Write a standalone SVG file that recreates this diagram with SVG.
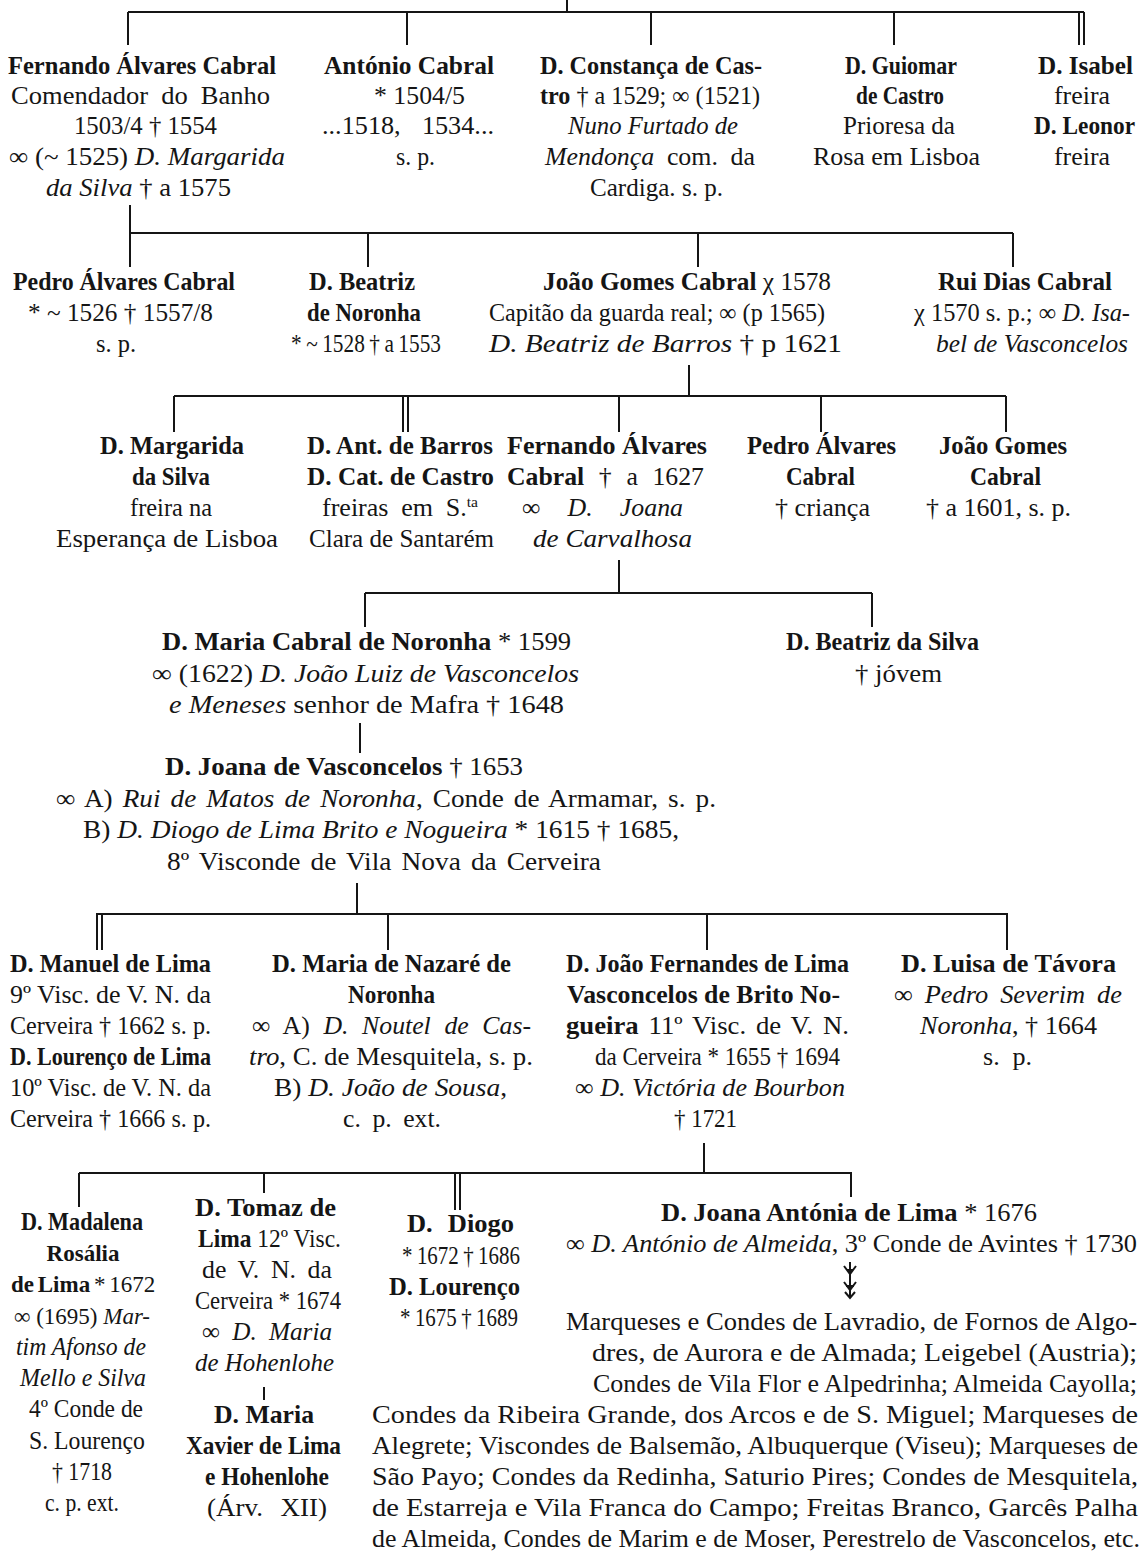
<svg xmlns="http://www.w3.org/2000/svg" width="1146" height="1555" viewBox="0 0 1146 1555">
<style>
text{font-family:"Liberation Serif","Times New Roman",serif;font-size:25px;fill:#151515}
.b{font-weight:bold}
.i{font-style:italic}
.s{font-size:23px}
.ln line,.ln path{stroke:#151515;stroke-width:2;fill:none}
</style>
<rect width="1146" height="1555" fill="#fff"/>
<g class="ln" id="connectors">
<line x1="567" y1="0" x2="567" y2="12"/>
<line x1="128" y1="12" x2="1084" y2="12"/>
<line x1="128" y1="12" x2="128" y2="45"/>
<line x1="407" y1="13" x2="407" y2="45"/>
<line x1="651" y1="13" x2="651" y2="45"/>
<line x1="894" y1="13" x2="894" y2="45"/>
<line x1="1079" y1="12" x2="1079" y2="45"/>
<line x1="1084" y1="12" x2="1084" y2="45"/>
<line x1="130" y1="205" x2="130" y2="267"/>
<line x1="130" y1="233" x2="1013" y2="233"/>
<line x1="368" y1="234" x2="368" y2="267"/>
<line x1="698" y1="234" x2="698" y2="267"/>
<line x1="1013" y1="233" x2="1013" y2="267"/>
<line x1="689" y1="365" x2="689" y2="396"/>
<line x1="174" y1="396" x2="1006" y2="396"/>
<line x1="174" y1="396" x2="174" y2="432"/>
<line x1="403" y1="397" x2="403" y2="432"/>
<line x1="408" y1="397" x2="408" y2="432"/>
<line x1="619" y1="397" x2="619" y2="432"/>
<line x1="821" y1="397" x2="821" y2="432"/>
<line x1="1006" y1="396" x2="1006" y2="432"/>
<line x1="619" y1="560" x2="619" y2="593"/>
<line x1="365" y1="593" x2="872" y2="593"/>
<line x1="365" y1="593" x2="365" y2="627"/>
<line x1="872" y1="593" x2="872" y2="627"/>
<line x1="360" y1="723" x2="360" y2="753"/>
<line x1="357" y1="883" x2="357" y2="914"/>
<line x1="96" y1="914" x2="1008" y2="914"/>
<line x1="97" y1="915" x2="97" y2="950"/>
<line x1="102" y1="915" x2="102" y2="950"/>
<line x1="388" y1="915" x2="388" y2="950"/>
<line x1="707" y1="915" x2="707" y2="950"/>
<line x1="1007" y1="914" x2="1007" y2="950"/>
<line x1="704" y1="1143" x2="704" y2="1173"/>
<line x1="79" y1="1173" x2="852" y2="1173"/>
<line x1="79" y1="1173" x2="79" y2="1207"/>
<line x1="264" y1="1174" x2="264" y2="1193"/>
<line x1="455" y1="1174" x2="455" y2="1210"/>
<line x1="460" y1="1174" x2="460" y2="1210"/>
<line x1="851" y1="1173" x2="851" y2="1197"/>
<line x1="264" y1="1387" x2="264" y2="1400"/>
<path d="M850 1262V1298M844 1266L850 1274L856 1266M846 1270H854M844 1282L850 1290L856 1282M846 1286H854M845 1292L850 1298L855 1292"/>
</g>

<g id="fernando">
<text x="8" y="74" textLength="268" lengthAdjust="spacingAndGlyphs" class="b">Fernando Álvares Cabral</text>
<text x="11" y="104" textLength="259" lengthAdjust="spacingAndGlyphs" style="word-spacing:6px">Comendador do Banho</text>
<text x="74" y="134" textLength="143" lengthAdjust="spacingAndGlyphs">1503/4 † 1554</text>
<text x="9" y="165" textLength="276" lengthAdjust="spacingAndGlyphs">∞ (~ 1525) <tspan class="i">D. Margarida</tspan></text>
<text x="46" y="196" textLength="185" lengthAdjust="spacingAndGlyphs"><tspan class="i">da Silva</tspan> † a 1575</text>
</g>
<g id="antonio">
<text x="324" y="74" textLength="170" lengthAdjust="spacingAndGlyphs" class="b">António Cabral</text>
<text x="374" y="104" textLength="91" lengthAdjust="spacingAndGlyphs">* 1504/5</text>
<text x="322" y="134" textLength="172" lengthAdjust="spacingAndGlyphs" style="word-spacing:14px">...1518, 1534...</text>
<text x="396" y="165" textLength="39" lengthAdjust="spacingAndGlyphs">s. p.</text>
</g>
<g id="constanca">
<text x="540" y="74" textLength="222" lengthAdjust="spacingAndGlyphs" class="b">D. Constança de Cas-</text>
<text x="540" y="104" textLength="220" lengthAdjust="spacingAndGlyphs"><tspan class="b">tro</tspan> † a 1529; ∞ (1521)</text>
<text x="568" y="134" textLength="170" lengthAdjust="spacingAndGlyphs" class="i">Nuno Furtado de</text>
<text x="545" y="165" textLength="210" lengthAdjust="spacingAndGlyphs" style="word-spacing:6px"><tspan class="i">Mendonça</tspan> com. da</text>
<text x="590" y="196" textLength="133" lengthAdjust="spacingAndGlyphs">Cardiga. s. p.</text>
</g>
<g id="guiomar">
<text x="845" y="74" textLength="112" lengthAdjust="spacingAndGlyphs" class="b">D. Guiomar</text>
<text x="856" y="104" textLength="88" lengthAdjust="spacingAndGlyphs" class="b">de Castro</text>
<text x="843" y="134" textLength="112" lengthAdjust="spacingAndGlyphs">Prioresa da</text>
<text x="813" y="165" textLength="167" lengthAdjust="spacingAndGlyphs">Rosa em Lisboa</text>
</g>
<g id="isabel-leonor">
<text x="1038" y="74" textLength="95" lengthAdjust="spacingAndGlyphs" class="b">D. Isabel</text>
<text x="1054" y="104" textLength="56" lengthAdjust="spacingAndGlyphs">freira</text>
<text x="1034" y="134" textLength="101" lengthAdjust="spacingAndGlyphs" class="b">D. Leonor</text>
<text x="1054" y="165" textLength="56" lengthAdjust="spacingAndGlyphs">freira</text>
</g>

<g id="pedro1">
<text x="13" y="290" textLength="222" lengthAdjust="spacingAndGlyphs" class="b">Pedro Álvares Cabral</text>
<text x="28" y="321" textLength="185" lengthAdjust="spacingAndGlyphs">* ~ 1526 † 1557/8</text>
<text x="96" y="352" textLength="40" lengthAdjust="spacingAndGlyphs">s. p.</text>
</g>
<g id="beatriz1">
<text x="309" y="290" textLength="106" lengthAdjust="spacingAndGlyphs" class="b">D. Beatriz</text>
<text x="307" y="321" textLength="114" lengthAdjust="spacingAndGlyphs" class="b">de Noronha</text>
<text x="291" y="352" textLength="150" lengthAdjust="spacingAndGlyphs" style="word-spacing:-1px">* ~ 1528 † a 1553</text>
</g>
<g id="joao1">
<text x="543" y="290" textLength="288" lengthAdjust="spacingAndGlyphs"><tspan class="b">João Gomes Cabral</tspan> χ 1578</text>
<text x="489" y="321" textLength="336" lengthAdjust="spacingAndGlyphs">Capitão da guarda real; ∞ (p 1565)</text>
<text x="489" y="352" textLength="353" lengthAdjust="spacingAndGlyphs"><tspan class="i">D. Beatriz de Barros</tspan> † p 1621</text>
</g>
<g id="rui">
<text x="938" y="290" textLength="174" lengthAdjust="spacingAndGlyphs" class="b">Rui Dias Cabral</text>
<text x="914" y="321" textLength="216" lengthAdjust="spacingAndGlyphs">χ 1570 s. p.; ∞ <tspan class="i">D. Isa-</tspan></text>
<text x="936" y="352" textLength="192" lengthAdjust="spacingAndGlyphs" class="i">bel de Vasconcelos</text>
</g>

<g id="margarida2">
<text x="100" y="454" textLength="144" lengthAdjust="spacingAndGlyphs" class="b">D. Margarida</text>
<text x="132" y="485" textLength="78" lengthAdjust="spacingAndGlyphs" class="b">da Silva</text>
<text x="130" y="516" textLength="82" lengthAdjust="spacingAndGlyphs">freira na</text>
<text x="56" y="547" textLength="222" lengthAdjust="spacingAndGlyphs">Esperança de Lisboa</text>
</g>
<g id="antonia-catarina">
<text x="307" y="454" textLength="186" lengthAdjust="spacingAndGlyphs" class="b">D. Ant. de Barros</text>
<text x="307" y="485" textLength="187" lengthAdjust="spacingAndGlyphs" class="b">D. Cat. de Castro</text>
<text x="322" y="516" textLength="156" lengthAdjust="spacingAndGlyphs" style="word-spacing:6px">freiras em S.<tspan font-size="15" dy="-9">ta</tspan></text>
<text x="309" y="547" textLength="185" lengthAdjust="spacingAndGlyphs">Clara de Santarém</text>
</g>
<g id="fernando2">
<text x="507" y="454" textLength="200" lengthAdjust="spacingAndGlyphs" class="b">Fernando Álvares</text>
<text x="507" y="485" textLength="197" lengthAdjust="spacingAndGlyphs" style="word-spacing:8px"><tspan class="b">Cabral</tspan> † a 1627</text>
<text x="522" y="516" textLength="161" lengthAdjust="spacingAndGlyphs" style="word-spacing:20px">∞ <tspan class="i">D. Joana</tspan></text>
<text x="533" y="547" textLength="159" lengthAdjust="spacingAndGlyphs" class="i">de Carvalhosa</text>
</g>
<g id="pedro2">
<text x="747" y="454" textLength="149" lengthAdjust="spacingAndGlyphs" class="b">Pedro Álvares</text>
<text x="786" y="485" textLength="69" lengthAdjust="spacingAndGlyphs" class="b">Cabral</text>
<text x="775" y="516" textLength="95" lengthAdjust="spacingAndGlyphs">† criança</text>
</g>
<g id="joao2">
<text x="939" y="454" textLength="128" lengthAdjust="spacingAndGlyphs" class="b">João Gomes</text>
<text x="970" y="485" textLength="71" lengthAdjust="spacingAndGlyphs" class="b">Cabral</text>
<text x="926" y="516" textLength="145" lengthAdjust="spacingAndGlyphs">† a 1601, s. p.</text>
</g>

<g id="maria3">
<text x="162" y="650" textLength="409" lengthAdjust="spacingAndGlyphs"><tspan class="b">D. Maria Cabral de Noronha</tspan> * 1599</text>
<text x="152" y="682" textLength="427" lengthAdjust="spacingAndGlyphs">∞ (1622) <tspan class="i">D. João Luiz de Vasconcelos</tspan></text>
<text x="169" y="713" textLength="395" lengthAdjust="spacingAndGlyphs"><tspan class="i">e Meneses</tspan> senhor de Mafra † 1648</text>
</g>
<g id="beatriz3">
<text x="786" y="650" textLength="193" lengthAdjust="spacingAndGlyphs" class="b">D. Beatriz da Silva</text>
<text x="855" y="682" textLength="87" lengthAdjust="spacingAndGlyphs">† jóvem</text>
</g>
<g id="joana4">
<text x="165" y="775" textLength="358" lengthAdjust="spacingAndGlyphs"><tspan class="b">D. Joana de Vasconcelos</tspan> † 1653</text>
<text x="56" y="807" textLength="660" lengthAdjust="spacingAndGlyphs" style="word-spacing:3px">∞ A) <tspan class="i">Rui de Matos de Noronha</tspan>, Conde de Armamar, s. p.</text>
<text x="83" y="838" textLength="596" lengthAdjust="spacingAndGlyphs">B) <tspan class="i">D. Diogo de Lima Brito e Nogueira</tspan> * 1615 † 1685,</text>
<text x="167" y="870" textLength="434" lengthAdjust="spacingAndGlyphs" style="word-spacing:3px">8º Visconde de Vila Nova da Cerveira</text>
</g>

<g id="manuel-lourenco">
<text x="10" y="972" textLength="201" lengthAdjust="spacingAndGlyphs" class="b">D. Manuel de Lima</text>
<text x="10" y="1003" textLength="201" lengthAdjust="spacingAndGlyphs">9º Visc. de V. N. da</text>
<text x="10" y="1034" textLength="201" lengthAdjust="spacingAndGlyphs">Cerveira † 1662 s. p.</text>
<text x="10" y="1065" textLength="201" lengthAdjust="spacingAndGlyphs" class="b">D. Lourenço de Lima</text>
<text x="10" y="1096" textLength="201" lengthAdjust="spacingAndGlyphs">10º Visc. de V. N. da</text>
<text x="10" y="1127" textLength="201" lengthAdjust="spacingAndGlyphs">Cerveira † 1666 s. p.</text>
</g>
<g id="maria-nazare">
<text x="272" y="972" textLength="239" lengthAdjust="spacingAndGlyphs" class="b">D. Maria de Nazaré de</text>
<text x="348" y="1003" textLength="87" lengthAdjust="spacingAndGlyphs" class="b">Noronha</text>
<text x="252" y="1034" textLength="279" lengthAdjust="spacingAndGlyphs" style="word-spacing:7px">∞ A) <tspan class="i">D. Noutel de Cas-</tspan></text>
<text x="249" y="1065" textLength="284" lengthAdjust="spacingAndGlyphs"><tspan class="i">tro</tspan>, C. de Mesquitela, s. p.</text>
<text x="274" y="1096" textLength="233" lengthAdjust="spacingAndGlyphs">B) <tspan class="i">D. João de Sousa</tspan>,</text>
<text x="343" y="1127" textLength="98" lengthAdjust="spacingAndGlyphs" style="word-spacing:5px">c. p. ext.</text>
</g>
<g id="joao-fernandes">
<text x="566" y="972" textLength="283" lengthAdjust="spacingAndGlyphs" class="b">D. João Fernandes de Lima</text>
<text x="567" y="1003" textLength="273" lengthAdjust="spacingAndGlyphs" class="b">Vasconcelos de Brito No-</text>
<text x="566" y="1034" textLength="283" lengthAdjust="spacingAndGlyphs" style="word-spacing:3px"><tspan class="b">gueira</tspan> 11º Visc. de V. N.</text>
<text x="595" y="1065" textLength="245" lengthAdjust="spacingAndGlyphs">da Cerveira * 1655 † 1694</text>
<text x="575" y="1096" textLength="270" lengthAdjust="spacingAndGlyphs">∞ <tspan class="i">D. Victória de Bourbon</tspan></text>
<text x="674" y="1127" textLength="63" lengthAdjust="spacingAndGlyphs">† 1721</text>
</g>
<g id="luisa">
<text x="901" y="972" textLength="215" lengthAdjust="spacingAndGlyphs" class="b">D. Luisa de Távora</text>
<text x="894" y="1003" textLength="228" lengthAdjust="spacingAndGlyphs" style="word-spacing:5px">∞ <tspan class="i">Pedro Severim de</tspan></text>
<text x="920" y="1034" textLength="177" lengthAdjust="spacingAndGlyphs"><tspan class="i">Noronha</tspan>, † 1664</text>
<text x="983" y="1065" textLength="49" lengthAdjust="spacingAndGlyphs" style="word-spacing:6px">s. p.</text>
</g>

<g id="madalena">
<text x="21" y="1230" textLength="122" lengthAdjust="spacingAndGlyphs" class="b">D. Madalena</text>
<text x="83" y="1261" text-anchor="middle" class="b s">Rosália</text>
<text x="11" y="1292" class="s" style="word-spacing:-2px"><tspan class="b">de Lima</tspan> * 1672</text>
<text x="14" y="1324" class="s">∞ (1695) <tspan class="i">Mar-</tspan></text>
<text x="16" y="1355" textLength="130" lengthAdjust="spacingAndGlyphs" class="i">tim Afonso de</text>
<text x="20" y="1386" textLength="126" lengthAdjust="spacingAndGlyphs" class="i">Mello e Silva</text>
<text x="29" y="1417" textLength="114" lengthAdjust="spacingAndGlyphs">4º Conde de</text>
<text x="29" y="1449" textLength="116" lengthAdjust="spacingAndGlyphs">S. Lourenço</text>
<text x="52" y="1480" textLength="60" lengthAdjust="spacingAndGlyphs">† 1718</text>
<text x="45" y="1511" textLength="74" lengthAdjust="spacingAndGlyphs">c. p. ext.</text>
</g>
<g id="tomaz">
<text x="195" y="1216" textLength="141" lengthAdjust="spacingAndGlyphs" class="b">D. Tomaz de</text>
<text x="198" y="1247" textLength="143" lengthAdjust="spacingAndGlyphs"><tspan class="b">Lima</tspan> 12º Visc.</text>
<text x="202" y="1278" textLength="130" lengthAdjust="spacingAndGlyphs" style="word-spacing:5px">de V. N. da</text>
<text x="195" y="1309" textLength="146" lengthAdjust="spacingAndGlyphs">Cerveira * 1674</text>
<text x="202" y="1340" textLength="130" lengthAdjust="spacingAndGlyphs" style="word-spacing:6px">∞ <tspan class="i">D. Maria</tspan></text>
<text x="195" y="1371" textLength="139" lengthAdjust="spacingAndGlyphs" class="i">de Hohenlohe</text>
</g>
<g id="maria-xavier">
<text x="214" y="1423" textLength="100" lengthAdjust="spacingAndGlyphs" class="b">D. Maria</text>
<text x="186" y="1454" textLength="155" lengthAdjust="spacingAndGlyphs" class="b">Xavier de Lima</text>
<text x="205" y="1485" textLength="124" lengthAdjust="spacingAndGlyphs" class="b">e Hohenlohe</text>
<text x="207" y="1516" textLength="120" lengthAdjust="spacingAndGlyphs" style="word-spacing:10px">(Árv. XII)</text>
</g>
<g id="diogo-lourenco">
<text x="407" y="1232" textLength="107" lengthAdjust="spacingAndGlyphs" class="b" style="word-spacing:8px">D. Diogo</text>
<text x="402" y="1264" textLength="118" lengthAdjust="spacingAndGlyphs" style="word-spacing:-1px">* 1672 † 1686</text>
<text x="389" y="1295" textLength="131" lengthAdjust="spacingAndGlyphs" class="b">D. Lourenço</text>
<text x="400" y="1326" textLength="118" lengthAdjust="spacingAndGlyphs" style="word-spacing:-1px">* 1675 † 1689</text>
</g>
<g id="joana-antonia">
<text x="661" y="1221" textLength="376" lengthAdjust="spacingAndGlyphs"><tspan class="b">D. Joana Antónia de Lima</tspan> * 1676</text>
<text x="566" y="1252" textLength="571" lengthAdjust="spacingAndGlyphs">∞ <tspan class="i">D. António de Almeida</tspan>, 3º Conde de Avintes † 1730</text>
</g>
<g id="descendants">
<text x="566" y="1330" textLength="571" lengthAdjust="spacingAndGlyphs">Marqueses e Condes de Lavradio, de Fornos de Algo-</text>
<text x="592" y="1361" textLength="545" lengthAdjust="spacingAndGlyphs">dres, de Aurora e de Almada; Leigebel (Austria);</text>
<text x="593" y="1392" textLength="544" lengthAdjust="spacingAndGlyphs">Condes de Vila Flor e Alpedrinha; Almeida Cayolla;</text>
<text x="372" y="1423" textLength="766" lengthAdjust="spacingAndGlyphs">Condes da Ribeira Grande, dos Arcos e de S. Miguel; Marqueses de</text>
<text x="372" y="1454" textLength="766" lengthAdjust="spacingAndGlyphs">Alegrete; Viscondes de Balsemão, Albuquerque (Viseu); Marqueses de</text>
<text x="372" y="1485" textLength="766" lengthAdjust="spacingAndGlyphs">São Payo; Condes da Redinha, Saturio Pires; Condes de Mesquitela,</text>
<text x="372" y="1516" textLength="766" lengthAdjust="spacingAndGlyphs">de Estarreja e Vila Franca do Campo; Freitas Branco, Garcês Palha</text>
<text x="372" y="1547" textLength="768" lengthAdjust="spacingAndGlyphs">de Almeida, Condes de Marim e de Moser, Perestrelo de Vasconcelos, etc.</text>
</g>
</svg>
